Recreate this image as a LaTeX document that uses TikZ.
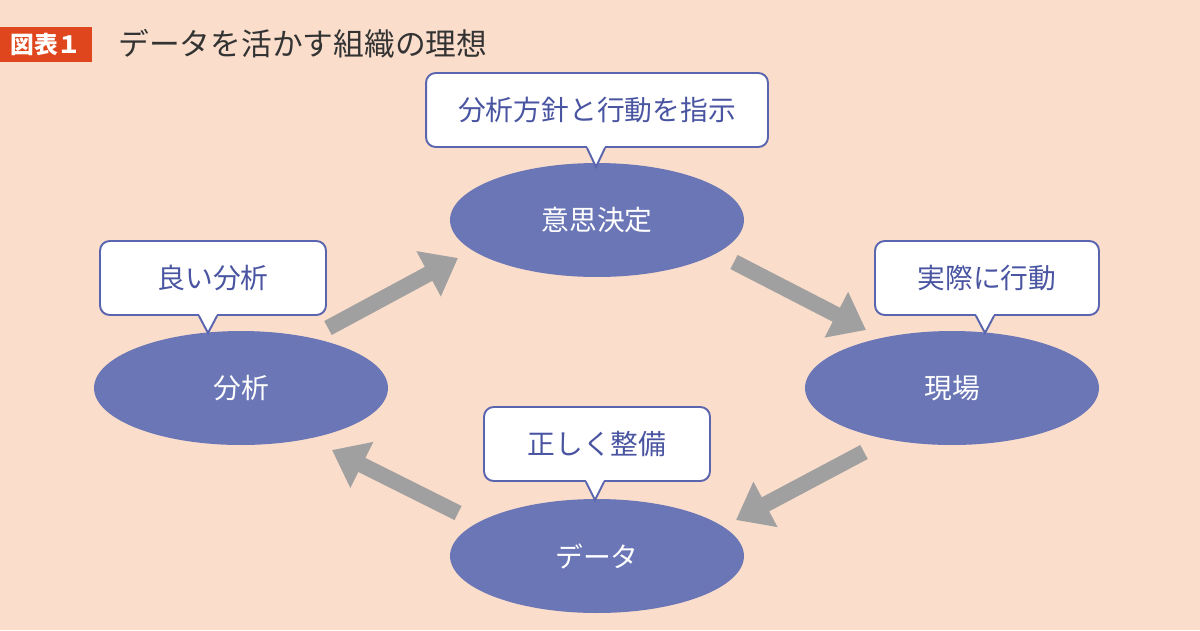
\documentclass[tikz,border=0pt]{standalone}
\usepackage{fontspec}
\setmainfont{Noto Sans CJK JP}
\usepackage{tikz}
\usetikzlibrary{arrows.meta,shapes.geometric,calc}
\definecolor{bgpeach}{HTML}{FADDCB}
\definecolor{ovalblue}{HTML}{6B76B6}
\definecolor{boxblue}{HTML}{5A65AF}
\definecolor{textblue}{HTML}{4A55A2}
\definecolor{arrowgray}{HTML}{A0A0A0}
\definecolor{badgered}{HTML}{E0461E}
\definecolor{titlegray}{HTML}{333333}

\begin{document}
\begin{tikzpicture}[x=0.02cm, y=-0.02cm]
\tikzstyle{oval}=[ellipse, fill=ovalblue, text=white, minimum width=5.88cm, minimum height=2.28cm, font=\fontsize{15.8}{18}\selectfont]
\tikzstyle{bubble}=[rectangle, rounded corners=5.5pt, draw=boxblue, line width=1.1pt, fill=white, text=textblue, minimum height=1.48cm, font=\fontsize{15.8}{18}\selectfont]
\tikzstyle{tailfill}=[fill=white]
\tikzstyle{tailline}=[draw=boxblue, line width=1.1pt, line join=miter]
\tikzstyle{flow}=[-{Triangle[length=19pt, width=28pt]}, line width=9pt, draw=arrowgray]
\tikzstyle{badge}=[rectangle, fill=badgered, text=white, minimum width=1.84cm, minimum height=0.7cm, font=\fontsize{13.5}{15}\selectfont\bfseries]

  \fill[bgpeach] (0,0) rectangle (1200,630);
  \useasboundingbox (0,0) rectangle (1200,630);

  % title
  \node[badge] (fig) at (46,44) {図表１};
  \node[anchor=west, text=titlegray, font=\fontsize{17.5}{19}\selectfont, inner sep=0] (title) at (118,44) {データを活かす組織の理想};

  % the four stages
  \node[oval] (kettei)  at (597,220) {意思決定};
  \node[oval] (bunseki) at (241,388) {分析};
  \node[oval] (genba)   at (952,388) {現場};
  \node[oval] (data)    at (597,556) {データ};

  % speech bubbles
  \node[bubble, minimum width=6.84cm] (shiji)   at (597,110) {分析方針と行動を指示};
  \node[bubble, minimum width=4.52cm] (yoi)     at (213,278) {良い分析};
  \node[bubble, minimum width=4.48cm] (jissai)  at (987,278) {実際に行動};
  \node[bubble, minimum width=4.52cm] (seibi)   at (597,444) {正しく整備};

  \coordinate (tshiji)  at (596,167);
  \coordinate (tyoi)    at (208,333);
  \coordinate (tjissai) at (985,333);
  \coordinate (tseibi)  at (595,500);

  \foreach \b/\t in {shiji/tshiji, yoi/tyoi, jissai/tjissai, seibi/tseibi}{
    \fill[tailfill] ($(\b.south -| \t)+(-9,-2)$) -- (\t) -- ($(\b.south -| \t)+(9,-2)$) -- cycle;
    \draw[tailline] ($(\b.south -| \t)+(-9,0)$) -- (\t) -- ($(\b.south -| \t)+(9,0)$);
  }

  % cycle arrows
  \coordinate (a1s) at ($(bunseki)+(87,-60)$);
  \coordinate (a1e) at ($(kettei)+(-139,38)$);
  \coordinate (a2s) at ($(kettei)+(137,42)$);
  \coordinate (a2e) at ($(genba)+(-86,-58)$);
  \coordinate (a3s) at ($(genba)+(-88,64)$);
  \coordinate (a3e) at ($(data)+(139,-36)$);
  \coordinate (a4s) at ($(data)+(-139,-43)$);
  \coordinate (a4e) at ($(bunseki)+(91,62)$);

  \path (a1s) edge [flow] (a1e);
  \path (a2s) edge [flow] (a2e);
  \path (a3s) edge [flow] (a3e);
  \path (a4s) edge [flow] (a4e);

\end{tikzpicture}
\end{document}
